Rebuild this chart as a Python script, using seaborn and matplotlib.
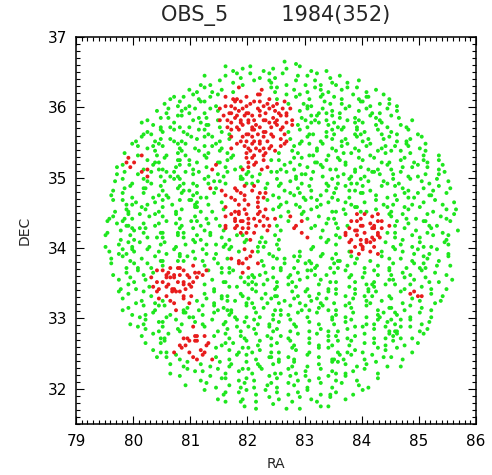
import numpy as np
import pandas as pd
import matplotlib
matplotlib.use("Agg")
import matplotlib.pyplot as plt
from matplotlib.ticker import MultipleLocator
import seaborn as sns

# Star positions of the OBS_5 field, transcribed on a 0.1 deg x 0.1 deg grid.
# One string per DEC row (top row first), starting at column ROW_START[i].
#   '.'      empty cell
#   '1'-'9'  one field star, at the keypad sub-position of the cell
#   'a'-'i'  one cluster-member star, keypad sub-position 1-9
#   'G','H'  two field stars (7+3 / 1+9);  'R','S' two members (7+3 / 1+9)
GRID_RA0 = 79.5
GRID_DEC0 = 36.7
GRID_STEP = 0.1

ROW_START = [31, 21, 17, 16, 14, 11, 10, 9, 7, 6, 5, 4, 4, 3, 2, 2,
             2, 1, 1, 1, 1, 0, 0, 0, 0, 0, 0, 0, 0, 0, 0, 0, 0, 0,
             3, 3, 4, 4, 5, 6, 7, 8, 9, 10, 11, 13, 14, 17, 19, 22]

ROW_CELLS = [
    "5.2",
    "72.48.3.5.6..7.1.3",
    "5...4.G.8.193.7.6.5.7.2.4",
    "3.2.7.5.1.7.94.3.8.193.62.5.8",
    "6.183.5.2h...e.G7..4.296.1.58.73.5",
    "246.82.59.dbaf.igc.19.573.67.42.8264.93",
    "5.373.98.2.aSicegRebdh4.621.85.53.972.46.1",
    "437.5G9.286gcSeRaidSfbRh.48.2G6.17.593.18.4",
    "2.6.498.256.3SbfRhSaRaeSic.51G739.4262.851.75.3",
    "8.53.2713.964.1bgSdReaiSdSf6.278.4G3.917.582.63",
    ".35194.762.881.53ghcSRfdaib4.732.6918.3G5.92.41.73",
    ".28.36.512.7489.16gcRiaSbhfc5.28.396.24.714.69.135.8",
    "96.2584.9173.5682.ageSbRcdfh.479.173.583.68.246.94.17",
    "5.3b.913.681.824.752.fhaRdi5.96.327.186.48.29.479.5.37.2",
    ".cga.5328.646.19.3157.iSbf.45.278.316.941.84.723.68.162.5",
    "47e.3b821.5792.6ch.436adgbe.38.175.9422.736.13.81.469.5.27",
    "48.6hb73" "92G.758.16" "38.36G.4.7" "79.2548.1." "36.H.2974." "59.13.4.58",
    "6.73.951." "5.7G.2.814" "41.9G36.2." "G.582.7.39" "3.91H.4.62" "82.8.53.7.4",
    "2.58.64.9" "1.6G3.7." "e5b.fahcg.4." "82.6.91.37" "5.G3.72.8." "9.41.6.28.5",
    "4.73.9.25" "61.8.5G3.7." "daie.cRg5" "2.84G.16.3" "7.3.97.5.2" "6.81H.64.9.",
    "8.G35.26." "73.79G4.1." "5.ibhaf.8." "36.2.7.G.4" "9.41.5.83." "27.3.6.9.1.4",
    ".3.61.84.2" "7.25.9G.3.6" "gcbe.iad5" "8.1.G.47.3" "26.9G3.5.8" "1.84.7.2.6.5",
    "35.2G.769." "4.81.6.3.2." "dRhiaSfbc" "6.e.82.5.1" "1.7.Rhfi.9" "4.G.2.8.63.7",
    "8.4G1.6.35" "9.52.7G.4.1" "aiSgdbRc." "1.7bh.3.6." "5.2gRaeShc" "37.4.9G.1.8.",
    "2.6.94G7.3" "1.3G.8.52.6" "gicRga.e." "6..gb.7.4." "9.SfdbiRh2" "3.8.5.27.1.6",
    "7.3.81.5.4" "4.96.2G.8.5" "3.7Gb.5.9" "2....e.6.1" "84gaRcfSd." "6.19.4.8.37.",
    "1.5.G.73.6" "8.2.49.6.53" "41.8.3G7." "4.....2.9." "5.icfSha.7" "26.3.G.1.84",
    "6.2G94.8.5" "3.71.5.G.2." "9.5hf6.3." "8...4.7.1." "2.6dbgec5." "9.4.H.3.7.1.",
    ".4.72.5.93" "1.3G86.1.4." "5dbfh.2.8" "45.G73.9.6" "31.74.2.86" ".6.3.95.2.7.",
    ".7.3.G.81." "4bca.e.5.92" "3.hgai6.2" "38.1.7G4.2" "G.59.2.6.3" "8.3.7H1.4.5.",
    ".2.6.93.5g" "RdaSbfeS7.5" "68.d3.14." "9.26.8G.3." "4.71.5.G.9" "1.42.8.6.3",
    "..5.81.4ga" "ShRcibg.6.3" "1.92G7.58" "1.G.48.6.2" "2.93.7.1.6" "5.8.4.G.2.6",
    "..3.72.6eb" "fRaiSd.8.1." "6.4.G89.3" "4.75.2.8.1" "2.63.9H4.7" "9.28.5.1.3",
    "..8.4.9.1g" "cihR.a.5.72" "2.61.8.43" "1.93.G.5.7" "5.16.2G8.3" ".9.eRb.4.1",
    "7.25.3h" "4eaic.49.18" "56.3G.827" "25.71.4G9." "1.38.62.5." "7.19.4.36",
    "14.9.38" "8.b35.27.G6" "21.9.46.3" "3.8.2G.571" "2.74.9.3.6" "4.28.5.1.",
    "6.148." "35.9G2.4.7." "6G.3.81.5" "6.49.2.7.3" "5.18.3.6H." "94.2.7.1",
    "2.37.5" "4.82.6.19.3" "4.75.G.38" "5.81.6.2.9" "1.47.3.H.5" "G9.8.26.",
    "9.4.2" "7.61.h.8.3." "5.G.74.92" "4.28.3.6.1" "3.59.7.4.G" "3H.8.15",
    "5.83" "27.cbfde.4." "G.62.8.51" "6.19.3.7.4" "5.26.8.1.H" "5G.3.9",
    "4.6" "8..aSigcd.2" "45.9.37.1" "4.81.6.2.G" "9.37.5.4.1" "8.2.6",
    "53" "3.ahc.fb.8." "6.27G.4.1" "2.95.3.8.7" "3.26.1.9.4" ".7.3",
    "4" "6.81.eagc5." "3.79.2.64" "2.41.8.5.3" "1G.7.29.6." "4.1",
    ".5.38.6.2.7" "34.9.61.5" "8.37.2.5.9" "9.4.16.8.2" ".3",
    "2..86.4.9." "1.57G.8.3" "3.72.4.9.6" "2.15.8.3..",
    "7..3.8.5" "4.26.1.9." "4.83.G.5.7" "2.7.1..6.",
    "4..9.2." "6.38.1.57" "1.74.2.9.3" ".8..5.1.",
    "8..3" "4.59.2.7." "4.16.8.3.2" "5..2.7",
    "6.1.34.2.9." "5.3.7.41.8" "..4",
    "..5.2..8.3..1..6.4",
]

TITLE_FIELD = "OBS_5"
N_TOTAL = 1984
N_MEMBERS = 352

X_TICKS = [79, 80, 81, 82, 83, 84, 85, 86]
Y_TICKS = [32, 33, 34, 35, 36, 37]


def decode_cells():
    single_field = {str(k): k for k in range(1, 10)}
    single_member = {c: k for k, c in enumerate("abcdefghi", start=1)}
    doubles = {"G": ("field", (7, 3)), "H": ("field", (1, 9)),
               "R": ("member", (7, 3)), "S": ("member", (1, 9))}
    sub = GRID_STEP / 3.0
    rows = []
    for i, (start, cells) in enumerate(zip(ROW_START, ROW_CELLS)):
        dec_c = GRID_DEC0 - GRID_STEP * (i + 0.5)
        for k, ch in enumerate(cells):
            if ch == ".":
                continue
            ra_c = GRID_RA0 + GRID_STEP * (start + k + 0.5)
            if ch in single_field:
                entries = [("field", single_field[ch])]
            elif ch in single_member:
                entries = [("member", single_member[ch])]
            else:
                kind, spots = doubles[ch]
                entries = [(kind, p) for p in spots]
            for kind, p in entries:
                dx = ((p - 1) % 3 - 1) * sub
                dy = ((p - 1) // 3 - 1) * sub
                rows.append((ra_c + dx, dec_c + dy, kind))
    return pd.DataFrame(rows, columns=["RA", "DEC", "kind"])


stars = decode_cells()
# field stars underneath, cluster members on top
stars["order"] = (stars["kind"] == "member").astype(int)
stars = stars.sort_values("order", kind="stable")

sns.set_style("ticks")
plt.rcParams["font.family"] = ["DejaVu Sans"]

fig = plt.figure(figsize=(4.92, 4.75), dpi=100)
ax = fig.add_axes([0.1545, 0.1074, 0.813, 0.8147])

sns.scatterplot(data=stars, x="RA", y="DEC", hue="kind",
                palette={"field": "#1ee61e", "member": "#e81c1c"},
                s=8, linewidth=0, legend=False, ax=ax)

ax.set_xlim(79, 86)
ax.set_ylim(31.5, 37)
ax.set_xticks(X_TICKS)
ax.set_yticks(Y_TICKS)
ax.xaxis.set_minor_locator(MultipleLocator(0.1))
ax.yaxis.set_minor_locator(MultipleLocator(0.1))
ax.tick_params(which="both", direction="in", top=True, right=True,
               width=0.8, colors="black", labelsize=11)
ax.tick_params(which="major", length=5.8)
ax.tick_params(which="minor", length=2.9)
ax.tick_params(axis="x", pad=7)
ax.tick_params(axis="y", pad=6)
for spine in ax.spines.values():
    spine.set_linewidth(1.1)
    spine.set_color("black")

ax.set_xlabel("RA", fontsize=10, labelpad=6)
ax.set_ylabel("DEC", fontsize=10, labelpad=12)
ax.set_title(f"{TITLE_FIELD}        {N_TOTAL}({N_MEMBERS})", fontsize=15, pad=11.5)

fig.savefig("out.png", dpi=100)
